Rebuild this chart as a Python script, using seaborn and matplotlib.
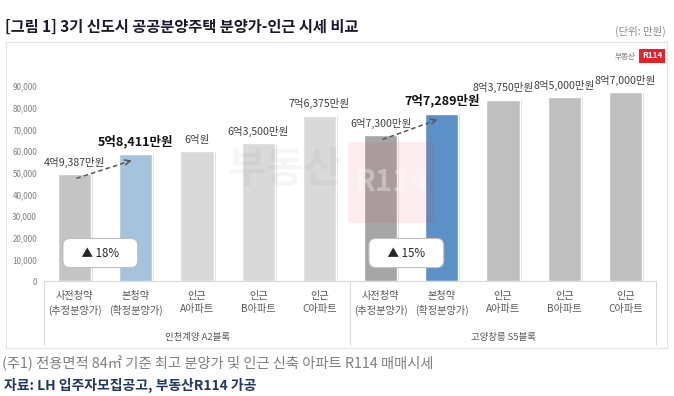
#!/usr/bin/env python3
"""
Recreate: [그림 1] 3기 신도시 공공분양주택 분양가-인근 시세 비교
Grouped bar chart (two blocks x five categories), saved as out.png.
"""

import pandas as pd
import matplotlib.pyplot as plt
import matplotlib.patheffects as pe
from matplotlib.patches import Rectangle
from matplotlib.transforms import blended_transform_factory
import seaborn as sns

# === Data ===
groups = ["인천계양 A2블록", "고양창릉 S5블록"]
categories = ["사전청약\n(추정분양가)", "본청약\n(확정분양가)", "인근\nA아파트", "인근\nB아파트", "인근\nC아파트"]
incheon_values = [49387, 58411, 60000, 63500, 76375]
goyang_values = [67300, 77289, 83750, 85000, 87000]
bar_colors = ["#C4C4C4", "#9DC3E6", "#D9D9D9", "#D9D9D9", "#D9D9D9",
              "#A6A6A6", "#4A8FDB", "#BFBFBF", "#BFBFBF", "#BFBFBF"]
yticks = list(range(0, 90001, 10000))

rows = []
for g, vals in zip(groups, [incheon_values, goyang_values]):
    for c, v in zip(categories, vals):
        rows.append({"Group": g, "Category": c, "Value": v})
df = pd.DataFrame(rows)
df["Key"] = [f"{i}" for i in range(len(df))]


def won_label(v):
    eok, man = divmod(v, 10000)
    return f"{eok}억원" if man == 0 else f"{eok}억{man:,}만원"


# === Figure ===
sns.set_style("white")
plt.rcParams["font.family"] = ["Noto Sans CJK KR", "DejaVu Sans"]

fig = plt.figure(figsize=(6.74, 3.96), dpi=100)
ax = fig.add_axes([0.0653, 0.2904, 0.908, 0.5472])

sns.barplot(data=df, x="Key", y="Value", hue="Key", palette=bar_colors,
            legend=False, width=0.54, ax=ax)

for patch in ax.patches:
    patch.set_path_effects([pe.withSimplePatchShadow(offset=(1.5, -0.5), alpha=0.35,
                                                     shadow_rgbFace="#7F7F7F"),
                            pe.Normal()])

ax.set_xlim(-0.5, len(df) - 0.5)
ax.set_ylim(0, 100000)
ax.set_yticks(yticks)
ax.set_yticklabels([f"{t:,}" for t in yticks], fontsize=5.8, color="#7F7F7F")
ax.set_xticks(range(len(df)))
ax.set_xticklabels(list(df["Category"]), fontsize=7.3, color="#595959", linespacing=1.45)
ax.tick_params(axis="both", length=0)
ax.tick_params(axis="x", pad=7)
ax.tick_params(axis="y", pad=5)
ax.set_xlabel("")
ax.set_ylabel("")
for s in ["top", "right", "left"]:
    ax.spines[s].set_visible(False)
ax.spines["bottom"].set_color("#D9D9D9")
ax.spines["bottom"].set_linewidth(0.8)

# value labels
for i, v in enumerate(df["Value"]):
    main = (i % 5) == 1
    ax.annotate(won_label(v), (i, v), xytext=(0, 4.5), textcoords="offset points",
                ha="center", va="bottom",
                fontsize=9.0 if main else 7.6,
                fontweight="bold" if main else "normal",
                color="#111111" if main else "#404040")

# group labels and separators
trans = blended_transform_factory(ax.transData, ax.transAxes)
n = len(categories)
for gi, g in enumerate(groups):
    ax.text(gi * n + (n - 1) / 2, -0.262, g, transform=trans, ha="center", va="center",
            fontsize=6.8, color="#595959")
for xb in [-0.5, n - 0.5, 2 * n - 0.5]:
    ax.plot([xb, xb], [0, -0.295], transform=trans, color="#D9D9D9", lw=0.8, clip_on=False)

# dashed growth arrows and percentage boxes
for gi, vals in enumerate([incheon_values, goyang_values]):
    x0 = gi * n
    ys, ye = vals[0] - 2000, vals[1] - 2800
    ax.plot([x0 + 0.03, x0 + 0.9], [ys, ye - 300], ls=(0, (3, 2)), color="#595959", lw=1.1)
    ax.annotate("", xy=(x0 + 0.93, ye), xytext=(x0 + 0.85, ye - 650),
                arrowprops=dict(arrowstyle="->", color="#595959", lw=1.1,
                                mutation_scale=9))
    pct = round((vals[1] / vals[0] - 1) * 100)
    ax.text(x0 + 0.42, 12900, f"    ▲ {pct}%    ", ha="center", va="center",
            fontsize=8.3, color="#262626", zorder=5,
            bbox=dict(boxstyle="round,pad=0.7,rounding_size=0.6", fc="white",
                      ec="#BFBFBF", lw=0.8))

# chart frame
fig.patches.append(Rectangle((6 / 674, 1 - 348 / 396), 661 / 674, 306 / 396,
                             transform=fig.transFigure, fill=False,
                             ec="#E3E3E3", lw=0.8, zorder=0))

# faint watermark
fig.text(285 / 674, 1 - 170 / 396, "부동산", fontsize=30, fontweight="bold",
         color="#000000", alpha=0.035, ha="center", va="center")
fig.patches.append(Rectangle((348 / 674, 1 - 223 / 396), 87 / 674, 81 / 396,
                             transform=fig.transFigure, fc="#E8202A", ec="none",
                             alpha=0.08, zorder=4))
fig.text(391 / 674, 1 - 182 / 396, "R114", fontsize=21, fontweight="bold",
         color="white", alpha=0.35, ha="center", va="center", zorder=5)

# logo
fig.text(636 / 674, 1 - 56 / 396, "부동산", fontsize=5.5, color="#9A9A9A",
         ha="right", va="center", fontweight="bold")
fig.text(652 / 674, 1 - 56 / 396, "R114", fontsize=6, color="white", fontweight="bold",
         ha="center", va="center",
         bbox=dict(boxstyle="square,pad=0.35", fc="#E8202A", ec="none"))

# title, unit, notes
fig.text(5 / 674, 1 - 27 / 396, "[그림 1] 3기 신도시 공공분양주택 분양가-인근 시세 비교",
         fontsize=11, fontweight="bold", color="#1A1A2E", ha="left", va="center")
fig.text(666 / 674, 1 - 31 / 396, "(단위: 만원)", fontsize=7.5, color="#8C8C8C",
         ha="right", va="center")
fig.text(2 / 674, 1 - 363 / 396,
         "(주1) 전용면적 84㎡ 기준 최고 분양가 및 인근 신축 아파트 R114 매매시세",
         fontsize=10.3, color="#808080", ha="left", va="center")
fig.text(4 / 674, 1 - 385 / 396, "자료: LH 입주자모집공고, 부동산R114 가공",
         fontsize=10.0, fontweight="bold", color="#1F3864", ha="left", va="center")

fig.savefig("out.png", dpi=100)
plt.close(fig)
